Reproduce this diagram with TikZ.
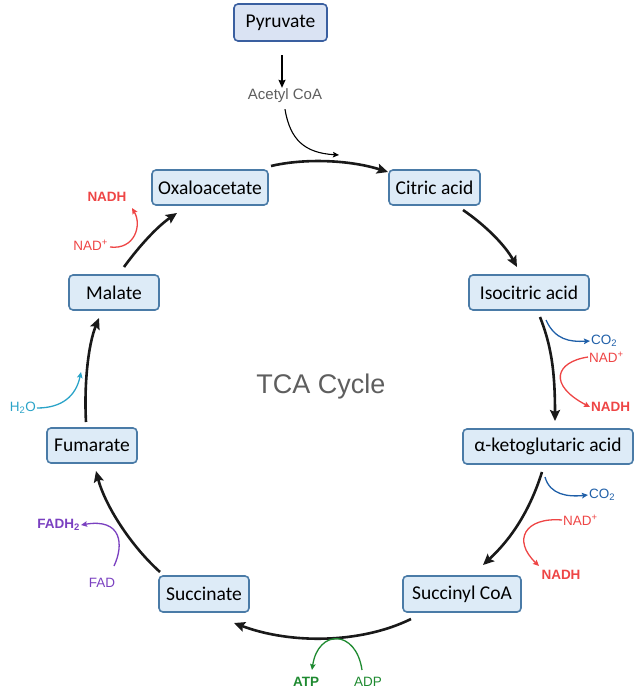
\documentclass[tikz,border=0pt]{standalone}
\usepackage{fontspec}
\setmainfont{Carlito}
\newfontfamily\lab{Liberation Sans}
\usetikzlibrary{arrows.meta}
\definecolor{boxfill}{HTML}{DDEBF7}
\definecolor{boxline}{HTML}{4A7BA7}
\definecolor{pyrfill}{HTML}{DAE3F3}
\definecolor{pyrline}{HTML}{3A5FA0}
\definecolor{nadred}{HTML}{EE4545}
\definecolor{coblue}{HTML}{1F5FA8}
\definecolor{watercyan}{HTML}{2AA3C8}
\definecolor{fadpurple}{HTML}{7A40C0}
\definecolor{atpgreen}{HTML}{1E8A30}
\definecolor{labgray}{HTML}{5E5E5E}
\tikzset{
  box/.style={draw=boxline, fill=boxfill, rounded corners=4pt, line width=1.6pt,
    font=\fontsize{19.5}{22}\selectfont, inner sep=0pt, anchor=center},
  cyc/.style={line width=2.6pt, draw=black!90, -{Stealth[length=11pt,width=10pt,inset=2pt]}},
  thin/.style={line width=1.3pt, -{Stealth[length=6pt,width=5.5pt,inset=1pt]}},
  lbl/.style={font=\lab\fontsize{13.5}{15}\selectfont, inner sep=1pt},
  blbl/.style={font=\lab\bfseries\fontsize{13.5}{15}\selectfont, inner sep=1pt},
}
\begin{document}
\begin{tikzpicture}[x=1pt,y=-1pt]
\useasboundingbox (0,0) rectangle (643,691);
% boxes
\node[box, draw=pyrline, fill=pyrfill, minimum width=93pt, minimum height=37pt] (pyr) at (280.5,22.5) {Pyruvate};
\node[box, minimum width=116pt, minimum height=35pt] (oxa) at (210,187.5) {Oxaloacetate};
\node[box, minimum width=91pt, minimum height=35pt] (cit) at (434.5,187.5) {Citric acid};
\node[box, minimum width=120pt, minimum height=35pt] (iso) at (529,292.5) {Isocitric acid};
\node[box, minimum width=170pt, minimum height=35pt] (akg) at (548,446.5) {α-ketoglutaric acid};
\node[box, minimum width=118pt, minimum height=36pt] (suc) at (462,594) {Succinyl CoA};
\node[box, minimum width=90pt, minimum height=36pt] (sucn) at (204,594) {Succinate};
\node[box, minimum width=90pt, minimum height=35pt] (fum) at (92,445.5) {Fumarate};
\node[box, minimum width=90pt, minimum height=35pt] (mal) at (114,292.5) {Malate};
% centre title
\node[font=\lab\fontsize{27}{30}\selectfont, text=labgray] (tca) at (321,387) {TCA Cycle};
% acetyl CoA
\node[font=\lab\fontsize{15}{17}\selectfont, text=labgray, inner sep=1pt] (acoa) at (285,96) {Acetyl CoA};
\coordinate (p1) at (282,55);
\coordinate (acend) at (339,155);
\draw[line width=1.3pt, -{Stealth[length=8pt,width=7pt,inset=1pt]}] (p1) -- (acoa.north -| p1);
\draw[thin, line width=1.1pt] (acoa.south) ++(0,5) .. controls (290,140) and (305,153) .. (acend);
% cycle arrows
\coordinate (a1s) at (271,166); \coordinate (a1e) at (388,172);
\draw[cyc] (a1s) .. controls (305,158) and (350,160) .. (a1e);
\coordinate (a2s) at (463,210); \coordinate (a2e) at (517,267);
\draw[cyc] (a2s) .. controls (485,225) and (505,245) .. (a2e);
\coordinate (a3s) at (540,317); \coordinate (a3e) at (555,421);
\draw[cyc] (a3s) .. controls (551,345) and (555,370) .. (a3e);
\coordinate (a4s) at (542,472); \coordinate (a4e) at (483,565);
\draw[cyc] (a4s) .. controls (530,510) and (512,538) .. (a4e);
\coordinate (a5s) at (411,619); \coordinate (a5e) at (234,623);
\draw[cyc] (a5s) .. controls (360,644) and (290,644) .. (a5e);
\coordinate (a6s) at (160,572); \coordinate (a6e) at (96,471);
\draw[cyc] (a6s) .. controls (130,545) and (105,505) .. (a6e);
\coordinate (a7s) at (86,422); \coordinate (a7e) at (99,318);
\draw[cyc] (a7s) .. controls (84,385) and (88,345) .. (a7e);
\coordinate (a8s) at (124,267); \coordinate (a8e) at (177,213);
\draw[cyc] (a8s) .. controls (140,245) and (158,226) .. (a8e);
% Isocitric -> akg side products
\node[lbl, text=coblue, anchor=west] (co1) at (590,341) {CO\textsubscript{2}};
\coordinate (c1s) at (546,320);
\draw[thin, coblue] (c1s) .. controls (555,340) and (570,342) .. (co1.west);
\node[lbl, text=nadred, anchor=west] (nad1) at (588,357) {NAD\textsuperscript{+}};
\node[blbl, text=nadred, anchor=west] (nadh1) at (590,407) {NADH};
\draw[thin, nadred] (nad1.west) .. controls (555,362) and (548,385) .. (nadh1.west);
% akg -> succinyl side products
\node[lbl, text=coblue, anchor=west] (co2) at (588,495) {CO\textsubscript{2}};
\coordinate (c2s) at (545,477);
\draw[thin, coblue] (c2s) .. controls (550,495) and (568,497) .. (co2.west);
\node[lbl, text=nadred, anchor=west] (nad2) at (562,520) {NAD\textsuperscript{+}};
\node[blbl, text=nadred] (nadh2) at (561,575) {NADH};
\coordinate (r2e) at (539,566);
\draw[thin, nadred] (nad2.west) .. controls (525,517) and (512,540) .. (r2e);
% succinyl -> succinate
\node[blbl, text=atpgreen] (atp) at (306,682) {ATP};
\node[lbl, text=atpgreen] (adp) at (368,682) {ADP};
\coordinate (g1) at (362,670); \coordinate (g2) at (312,670);
\draw[thin, atpgreen] (g1) .. controls (356,629) and (318,629) .. (g2);
% succinate -> fumarate
\node[lbl, text=fadpurple] (fad) at (102,583) {FAD};
\node[blbl, text=fadpurple, anchor=east] (fadh) at (81,525) {FADH\textsubscript{2}};
\coordinate (f1) at (114,566);
\draw[thin, fadpurple] (f1) .. controls (124,545) and (122,518) .. (fadh.east);
% fumarate -> malate
\node[lbl, text=watercyan, anchor=east] (h2o) at (37,408) {H\textsubscript{2}O};
\coordinate (w1) at (81,372);
\draw[thin, watercyan] (h2o.east) .. controls (62,408) and (76,396) .. (w1);
% malate -> oxaloacetate
\node[lbl, text=nadred, anchor=east] (nad3) at (109,245) {NAD\textsuperscript{+}};
\node[blbl, text=nadred] (nadh3) at (107,197) {NADH};
\coordinate (r3e) at (132,208);
\draw[thin, nadred] (nad3.east) ++(1,2) .. controls (135,250) and (142,225) .. (r3e);
\end{tikzpicture}
\end{document}
